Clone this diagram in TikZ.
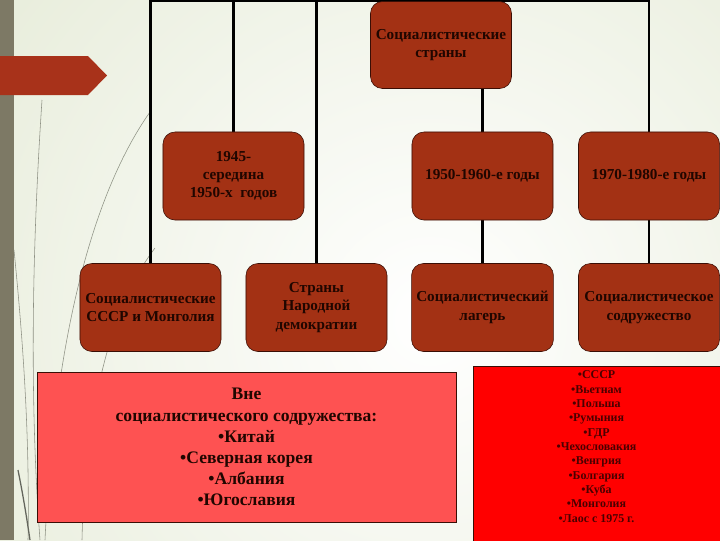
\documentclass[tikz,border=0pt]{standalone}
\usepackage{fontspec}
\setmainfont{Liberation Serif}
\definecolor{boxred}{HTML}{A33114}
\definecolor{boxline}{HTML}{3A0E05}
\definecolor{boxtext}{HTML}{200600}
\definecolor{pinkred}{HTML}{FE5252}
\definecolor{listred}{HTML}{FF0000}
\definecolor{listtext}{HTML}{4A0000}
\definecolor{bggreen}{HTML}{DFE6CD}
\definecolor{stripe}{HTML}{7D7965}
\definecolor{arrowred}{HTML}{A8321A}
\definecolor{grass}{HTML}{8E9184}
\pgfdeclarelayer{back}
\pgfsetlayers{back,main}

\begin{document}
\begin{tikzpicture}[x=0.025cm, y=-0.025cm,
	period/.style={draw=boxline, fill=boxred, rounded corners=0.3cm, minimum width=3.525cm,
		minimum height=2.2cm, align=center, text=boxtext, font=\bfseries\fontsize{10.8}{13}\selectfont},
	conn/.style={line width=1.6pt, black},
	outside/.style={draw=boxline, fill=pinkred, minimum width=10.475cm, minimum height=3.75cm,
		align=center, text=boxtext, font=\bfseries\fontsize{12.5}{15}\selectfont},
	grassline/.style={grass, line width=0.4pt}]
	\useasboundingbox (0,0) rectangle (720,540);
			%   %   %   %   %   %   %   %   %   %   %
			%   Root
				\node[period, minimum height=2.175cm] (root) at (441,45) {Социалистические\\страны};
			%   %   %   %   %   %   %   %   %   %   %
			%   Periods
				\node[period] (early) at (233.5,176) {1945-\\середина\\1950-х\ \ годов};
				\node[period] (mid) at (482.5,176) {1950-1960-е годы};
				\node[period] (late) at (649,176) {1970-1980-е годы};
			%   %   %   %   %   %   %   %   %   %   %
			%   Names
				\node[period] (ussr) at (150.5,307.5) {Социалистические\\СССР и Монголия};
				\node[period] (narod) at (316.5,307.5) {Страны\\Народной\\демократии};
				\node[period] (camp) at (482.5,307.5) {Социалистический\\лагерь};
				\node[period] (comm) at (649,307.5) {Социалистическое\\содружество};
			%   %   %   %   %   %   %   %   %   %   %
			%   Outside the community
				\node[outside] (outer) at (246.5,447) {Вне\\социалистического содружества:\\•Китай\\•Северная корея\\•Албания\\•Югославия};
			%   %   %   %   %   %   %   %   %   %   %
			%   Members
				\draw[draw=boxline, fill=listred] (473,366) rectangle (721,541);
				\node[align=center, text=listtext, font=\bfseries\fontsize{8.5}{10.2}\selectfont] (members) at (596.5,446.5)
				{•СССР\\•Вьетнам\\•Польша\\•Румыния\\•ГДР\\•Чехословакия\\•Венгрия\\•Болгария\\•Куба\\•Монголия\\•Лаос с 1975 г.};
			%   %   %   %   %   %   %   %   %   %   %
			%   Background, decoration and tree lines
				\begin{pgfonlayer}{back}
					\fill[bggreen] (0,0) rectangle (720,540);
					\begin{scope}
						\clip (0,0) rectangle (720,540);
						\shade[inner color=white, outer color=bggreen] (430,320) circle (760);
					\end{scope}
					\fill[stripe] (0,0) rectangle (14,540);
					\fill[arrowred] (0,56) -- (88,56) -- (107,75.5) -- (88,95) -- (0,95) -- cycle;
					\draw[grassline] (42,100) .. controls (34,220) and (28,380) .. (40,540);
					\draw[grassline] (150,112) .. controls (95,190) and (55,330) .. (45,540);
					\draw[grassline] (155,248) .. controls (115,300) and (85,400) .. (82,540);
					\draw[grassline] (14,250) .. controls (22,330) and (30,430) .. (28,540);
					\draw[grass!70!black, line width=0.9pt] (18,470) .. controls (24,500) and (27,520) .. (30,540);
					\draw[conn] (root.north) -| (ussr.north);
					\draw[conn] (root.north) -| (early.north);
					\draw[conn] (root.north) -| (narod.north);
					\draw[conn] (root.north) -| (late.north);
					\draw[conn] (root.south -| mid.north) -- (mid.north);
					\draw[conn] (mid.south) -- (camp.north);
					\draw[conn] (late.south) -- (comm.north);
				\end{pgfonlayer}
\end{tikzpicture}
\end{document}
